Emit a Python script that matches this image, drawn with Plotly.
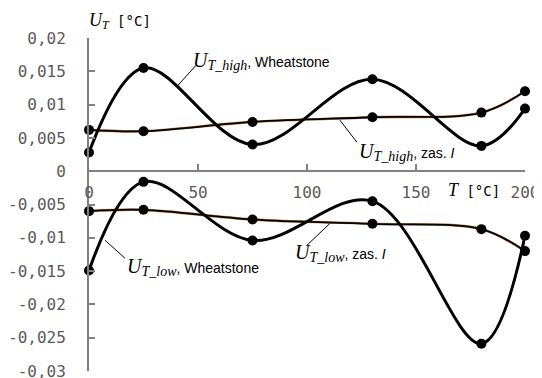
import plotly.graph_objects as go

# ---- data ----
T = [0, 25, 75, 130, 180, 200]
u_high_wheat = [0.0028, 0.0155, 0.0040, 0.0138, 0.0038, 0.0094]
u_high_zas = [0.0062, 0.0060, 0.0074, 0.0081, 0.0088, 0.0120]
u_low_wheat = [-0.0149, -0.0016, -0.0104, -0.0045, -0.0259, -0.0097]
u_low_zas = [-0.0060, -0.0058, -0.00725, -0.0079, -0.0087, -0.0120]

x_ticks = [0, 50, 100, 150, 200]
x_ticktext = ["0", "50", "100", "150", "200"]
y_ticks = [0.02, 0.015, 0.01, 0.005, 0, -0.005, -0.01, -0.015, -0.02, -0.025, -0.03]
y_ticktext = ["0,02", "0,015", "0,01", "0,005", "0", "-0,005", "-0,01", "-0,015",
              "-0,02", "-0,025", "-0,03"]

GRAY = "#808080"
LABEL = "#5a5a5a"
MONO = "DejaVu Sans Mono"
SERIF = "Liberation Serif"

fig = go.Figure()

for ys in (u_high_zas, u_low_zas):
    fig.add_trace(go.Scatter(x=T, y=ys, mode="lines",
                             line=dict(color="#c0834a", width=2.6, shape="spline", smoothing=1),
                             cliponaxis=False, hoverinfo="skip"))
    fig.add_trace(go.Scatter(x=T, y=ys, mode="lines+markers",
                             line=dict(color="black", width=1.8, shape="spline", smoothing=1),
                             marker=dict(color="black", size=10),
                             cliponaxis=False))
for ys in (u_high_wheat, u_low_wheat):
    fig.add_trace(go.Scatter(x=T, y=ys, mode="lines+markers",
                             line=dict(color="black", width=3, shape="spline", smoothing=1),
                             marker=dict(color="black", size=10),
                             cliponaxis=False))


def sym(main, sub, size=20, subsize=14):
    return (f"<span style='font-family:{SERIF};font-size:{size}px'><i>{main}</i></span>"
            f"<sub><span style='font-family:{SERIF};font-size:{subsize}px'><i>{sub}</i></span></sub>")


labels = [
    # text, text-left x, text y, leader (x0, y0, x1, y1)
    (sym("U", "T_high") + ", Wheatstone", 46.8, 0.0166, (40.8, 0.0129, 49.1, 0.0159)),
    (sym("U", "T_high") + ", zas. <i>I</i>", 122.9, 0.0029, (115.1, 0.00766, 122.9, 0.00435)),
    (sym("U", "T_low") + ", Wheatstone", 16.5, -0.0144, (7.3, -0.01036, 16.5, -0.01306)),
    (sym("U", "T_low") + ", zas. <i>I</i>", 93.6, -0.0123, (110.6, -0.00781, 100.0, -0.01111)),
]

for text, tx, ty, (x0, y0, x1, y1) in labels:
    fig.add_shape(type="line", x0=x0, y0=y0, x1=x1, y1=y1, xref="x", yref="y",
                  line=dict(color="black", width=1))
    fig.add_annotation(x=tx, y=ty, xref="x", yref="y", text=text, showarrow=False,
                       xanchor="left", yanchor="middle",
                       font=dict(family="Liberation Sans", size=14, color="black"))

# axis titles
fig.add_annotation(x=-0.005, y=1.05, xref="paper", yref="paper", showarrow=False,
                   xanchor="left", yanchor="middle",
                   text=sym("U", "T", 18, 12) + " [°C]",
                   font=dict(family=MONO, size=14, color="black"))
fig.add_annotation(x=0.819, y=0.5435, xref="paper", yref="paper", showarrow=False,
                   xanchor="left", yanchor="middle",
                   text=f"<span style='font-family:{SERIF};font-size:18px'><i>T</i></span> [°C]",
                   font=dict(family=MONO, size=14, color="black"))

# the page is drawn with an 8px body margin, so the figure is 8px smaller each way
fig.update_layout(
    width=534, height=370,
    margin=dict(l=81, r=17, t=30, b=7),
    plot_bgcolor="white", paper_bgcolor="white",
    showlegend=False,
    xaxis=dict(range=[0, 200], anchor="free", position=0.6,
               showline=True, linecolor=GRAY, linewidth=2,
               ticks="inside", ticklen=6, tickwidth=2, tickcolor=GRAY,
               tickvals=x_ticks, ticktext=x_ticktext,
               tickfont=dict(family=MONO, size=16, color=LABEL),
               ticklabelstandoff=7, ticklabeloverflow="allow", automargin=False,
               showgrid=False, zeroline=False),
    yaxis=dict(range=[-0.03, 0.02],
               showline=True, linecolor=GRAY, linewidth=2,
               ticks="inside", ticklen=6, tickwidth=2, tickcolor=GRAY,
               tickvals=y_ticks, ticktext=y_ticktext,
               tickfont=dict(family=MONO, size=16, color=LABEL),
               ticklabelstandoff=18, ticklabeloverflow="allow", automargin=False,
               showgrid=False, zeroline=False),
)

fig.write_html("out.html")
